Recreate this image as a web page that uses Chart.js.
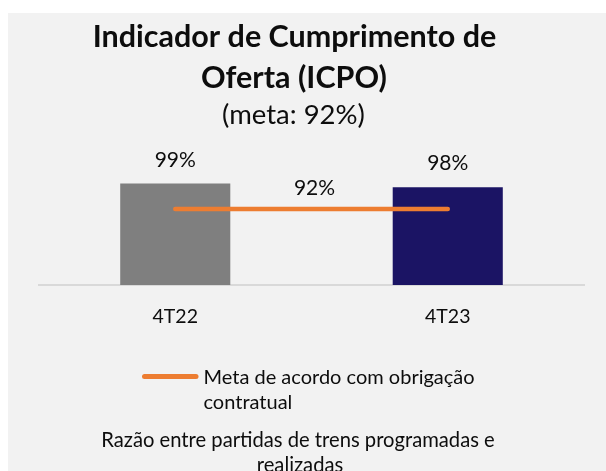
<!DOCTYPE html>
<html lang="pt-BR">
<head>
  <meta charset="UTF-8">
  <title>ICPO</title>
  <script src="https://cdn.jsdelivr.net/npm/chart.js"></script>
  <style>
    html, body { margin: 0; padding: 0; background: #fff; }
    #panel { position: absolute; left: 8px; top: 13px; width: 598px; height: 458px; background: #f2f2f2; }
    #icpoChart { display: block; }
  </style>
</head>
<body>
  <div id="panel"><canvas id="icpoChart" width="598" height="458"></canvas></div>

  <script>
    // dados
    const categories = ["4T22", "4T23"];
    const icpoValues = [99, 98];
    const metaValues = [92, 92];
    const barColors = ["#7f7f7f", "#1b1464"];

    const titleLines = ["Indicador de Cumprimento de", "Oferta (ICPO)"];
    const subtitleText = "(meta: 92%)";
    const metaLabel = ["Meta de acordo com obrigação", "contratual"];
    const footerLines = ["Razão entre partidas de trens programadas e", "realizadas"];

    const textColor = "#0d0d0d";
    const fontFamily = "Lato, 'Open Sans', sans-serif";

    // title, subtitle and footer text
    const textBlocks = {
      id: "textBlocks",
      afterDraw(chart) {
        const ctx = chart.ctx;
        ctx.save();
        ctx.fillStyle = textColor;
        ctx.textAlign = "center";
        ctx.textBaseline = "alphabetic";
        ctx.font = "bold 30.5px " + fontFamily;
        ctx.fillText(titleLines[0], 286.5, 34);
        ctx.fillText(titleLines[1], 286, 74.5);
        ctx.font = "27.5px " + fontFamily;
        ctx.fillText(subtitleText, 285.5, 111);
        ctx.font = "20.2px " + fontFamily;
        ctx.fillText(footerLines[0], 290, 434);
        ctx.fillText(footerLines[1], 292, 459);
        ctx.restore();
      }
    };

    // value labels over bars and the meta line
    const valueLabels = {
      id: "valueLabels",
      afterDatasetsDraw(chart) {
        const ctx = chart.ctx;
        ctx.save();
        ctx.fillStyle = textColor;
        ctx.textAlign = "center";
        ctx.textBaseline = "alphabetic";
        ctx.font = "21px " + fontFamily;
        const bars = chart.getDatasetMeta(0).data;
        bars.forEach((bar, i) => {
          ctx.fillText(icpoValues[i] + "%", bar.x, bar.y - 17);
        });
        const pts = chart.getDatasetMeta(1).data;
        const midX = (pts[0].x + pts[pts.length - 1].x) / 2;
        ctx.fillText(metaValues[0] + "%", midX + 3, pts[0].y - 13.5);
        ctx.restore();
      }
    };

    // legend for the meta line, wrapped on two lines
    const metaLegend = {
      id: "metaLegend",
      afterDraw(chart) {
        const ds = chart.data.datasets[1];
        const ctx = chart.ctx;
        ctx.save();
        ctx.strokeStyle = ds.borderColor;
        ctx.lineWidth = 5;
        ctx.lineCap = "round";
        ctx.beginPath();
        ctx.moveTo(136.5, 363.5);
        ctx.lineTo(188, 363.5);
        ctx.stroke();
        ctx.fillStyle = textColor;
        ctx.textAlign = "left";
        ctx.font = "20px " + fontFamily;
        ds.label.forEach((line, i) => {
          ctx.fillText(line, 195.5, 371 + i * 24.5);
        });
        ctx.restore();
      }
    };

    new Chart(document.getElementById("icpoChart"), {
      type: "bar",
      data: {
        labels: categories,
        datasets: [
          {
            type: "bar",
            label: "ICPO",
            data: icpoValues,
            backgroundColor: barColors,
            categoryPercentage: 1,
            barPercentage: 0.404,
            order: 1
          },
          {
            type: "line",
            label: metaLabel,
            data: metaValues,
            borderColor: "#ed7d31",
            borderWidth: 4.5,
            borderCapStyle: "round",
            pointRadius: 0,
            fill: false,
            order: 0
          }
        ]
      },
      options: {
        responsive: false,
        animation: false,
        devicePixelRatio: 1,
        layout: { padding: { left: 31, right: 22, top: 167, bottom: 126 } },
        plugins: {
          legend: { display: false },
          title: { display: false },
          tooltip: { enabled: false }
        },
        scales: {
          x: {
            grid: { display: false, drawTicks: false },
            border: { display: true, color: "#d9d9d9", width: 2 },
            ticks: {
              color: textColor,
              padding: 20,
              font: { family: fontFamily, size: 19.5 }
            },
            afterFit(scale) { scale.height = 60; }
          },
          y: {
            display: false,
            min: 71,
            max: 100
          }
        }
      },
      plugins: [valueLabels, metaLegend, textBlocks]
    });
  </script>
</body>
</html>
